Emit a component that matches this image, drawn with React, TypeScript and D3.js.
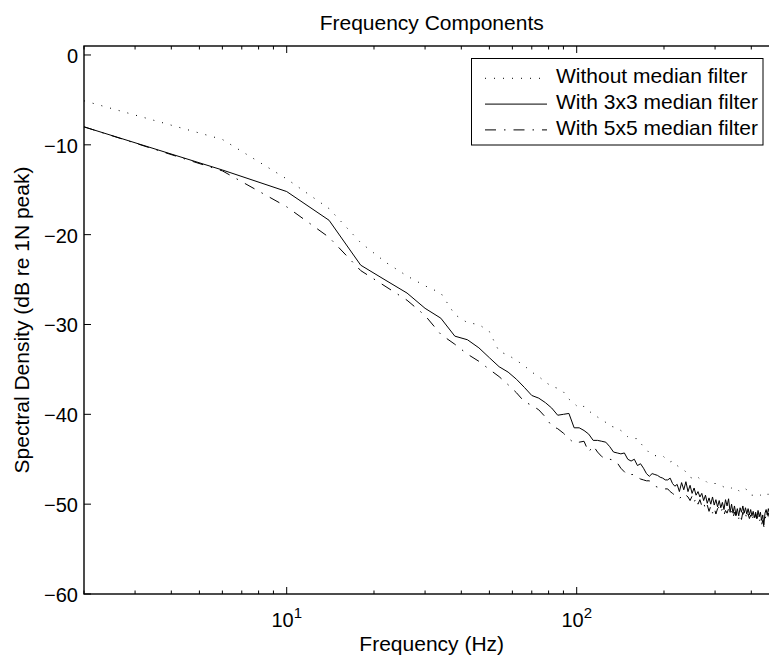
import React, { useEffect, useRef } from 'react';
import * as d3 from 'd3';

// FFT bins are 4 Hz apart, starting at 2 Hz
const freqs = d3.range(2, 463, 4);

const withoutFilter = [
  -5.1, -9.4, -13.8, -17.1, -20.9, -23.1, -24.6, -25.7, -26.5, -28.9,
  -29.8, -30.0, -30.8, -33.0, -33.4, -34.0, -34.6, -35.3, -35.8, -36.4,
  -36.9, -37.1, -37.5, -38.3, -38.8, -39.3, -39.1, -39.6, -40.0, -40.3,
  -40.6, -40.9, -41.3, -41.4, -41.6, -41.8, -42.1, -42.5, -42.7, -42.7,
  -42.7, -43.2, -43.6, -43.9, -44.3, -44.4, -44.6, -44.6, -44.6, -44.6,
  -44.9, -45.2, -45.3, -45.2, -45.4, -45.7, -45.9, -46.1, -46.2, -46.4,
  -46.7, -47.0, -47.1, -47.1, -46.9, -47.0, -47.2, -47.2, -47.3, -47.4,
  -47.6, -47.6, -47.6, -47.7, -47.7, -47.7, -47.7, -47.8, -47.9, -48.0,
  -48.1, -48.2, -48.3, -48.3, -48.3, -48.2, -48.1, -48.1, -48.2, -48.3,
  -48.5, -48.6, -48.6, -48.4, -48.3, -48.3, -48.4, -48.6, -48.8, -49.0,
  -49.0, -49.0, -49.1, -49.1, -49.1, -49.0, -49.0, -49.0, -48.9, -48.8,
  -48.8, -48.7, -48.8, -48.9, -48.9, -48.9,
];

const with3x3 = [
  -8.0, -12.8, -15.2, -18.4, -23.4, -25.1, -26.5, -28.2, -29.3, -31.3,
  -31.7, -32.6, -33.7, -34.7, -35.3, -36.1, -37.0, -37.9, -38.2, -38.7,
  -39.3, -40.1, -40.0, -39.9, -41.5, -41.5, -41.8, -42.2, -42.9, -42.9,
  -43.0, -43.1, -43.6, -44.2, -44.3, -44.4, -44.3, -45.0, -45.2, -45.0,
  -45.7, -45.5, -46.0, -46.6, -46.9, -46.6, -46.7, -46.8, -47.0, -47.1,
  -47.3, -47.3, -47.1, -47.7, -48.0, -47.8, -48.6, -47.6, -48.4, -47.5,
  -48.6, -47.9, -48.8, -48.2, -49.0, -48.6, -49.2, -48.8, -49.6, -49.0,
  -49.9, -49.3, -50.0, -49.2, -50.1, -49.5, -50.3, -49.6, -50.4, -49.8,
  -50.6, -49.5, -50.2, -49.4, -50.9, -50.0, -51.0, -50.2, -51.2, -50.5,
  -51.3, -50.4, -50.9, -50.2, -51.0, -50.4, -51.1, -50.5, -51.2, -50.6,
  -51.3, -50.8, -51.5, -50.9, -51.6, -50.7, -51.4, -50.9, -51.8, -51.2,
  -52.3, -51.0, -50.6, -51.2, -50.5, -51.0,
];

const with5x5 = [
  -8.0, -12.9, -16.9, -20.3, -24.0, -25.8, -27.3, -29.0, -31.1, -32.2,
  -33.3, -34.1, -35.0, -35.8, -36.7, -37.6, -38.6, -39.0, -39.5, -40.3,
  -41.3, -41.6, -42.1, -42.7, -43.2, -43.1, -43.0, -44.2, -43.5, -44.2,
  -44.7, -45.0, -45.0, -45.1, -45.4, -46.0, -46.4, -46.8, -46.7, -46.7,
  -47.0, -47.2, -47.3, -47.4, -47.4, -47.7, -48.0, -48.1, -48.2, -48.3,
  -48.3, -48.3, -48.6, -48.8, -49.0, -49.3, -49.4, -49.1, -48.8, -49.0,
  -49.2, -49.6, -49.1, -49.8, -49.3, -50.0, -49.5, -50.2, -49.8, -50.6,
  -50.1, -50.8, -50.2, -51.0, -50.4, -51.1, -50.5, -50.3, -50.9, -50.5,
  -51.2, -50.7, -51.0, -50.5, -51.1, -50.8, -51.5, -50.9, -51.3, -50.8,
  -51.6, -51.1, -51.7, -50.9, -51.4, -51.0, -51.7, -51.1, -51.6, -51.2,
  -51.9, -51.3, -51.8, -51.1, -51.6, -51.3, -52.0, -51.6, -52.3, -51.8,
  -52.5, -51.7, -51.2, -51.6, -51.0, -51.5,
];

const yTicks = [-60, -50, -40, -30, -20, -10, 0];
const xMajor = [10, 100];
const xMinor = [2, 3, 4, 5, 6, 7, 8, 9, 20, 30, 40, 50, 60, 70, 80, 90, 200, 300, 400, 500];
const legendLabels = ['Without median filter', 'With 3x3 median filter', 'With 5x5 median filter'];
const dashes = ['1,8', null, '11,8,1.5,8'];

const FONT = 'Liberation Sans, Arial, Helvetica, sans-serif';

function App() {
  const svgRef = useRef<SVGSVGElement>(null);

  useEffect(() => {
    const svg = d3.select(svgRef.current);
    svg.selectAll('*').remove();

    const left = 84, right = 779.4, top = 46, bottom = 594;
    const x = d3.scaleLog().domain([2, 500]).range([left, right]);
    const y = d3.scaleLinear().domain([-60, 1]).range([bottom, top]);

    svg.append('defs').append('clipPath').attr('id', 'plotclip')
      .append('rect')
      .attr('x', left).attr('y', top)
      .attr('width', right - left).attr('height', bottom - top);

    // series
    const line = d3.line<number>()
      .x((d, i) => x(freqs[i]))
      .y(d => y(d));

    const series = [withoutFilter, with3x3, with5x5];
    const g = svg.append('g').attr('clip-path', 'url(#plotclip)');
    series.forEach((vals, i) => {
      g.append('path')
        .attr('d', line(vals))
        .attr('fill', 'none')
        .attr('stroke', '#000')
        .attr('stroke-width', 1)
        .attr('stroke-dasharray', dashes[i]);
    });

    // frame
    svg.append('rect')
      .attr('x', left).attr('y', top)
      .attr('width', right - left).attr('height', bottom - top)
      .attr('fill', 'none').attr('stroke', '#000').attr('stroke-width', 1.4);

    const ticks = svg.append('g').attr('stroke', '#000').attr('stroke-width', 1);
    yTicks.forEach(t => {
      ticks.append('line').attr('x1', left).attr('x2', left + 7).attr('y1', y(t)).attr('y2', y(t));
      ticks.append('line').attr('x1', right).attr('x2', right - 7).attr('y1', y(t)).attr('y2', y(t));
    });
    xMajor.forEach(t => {
      ticks.append('line').attr('x1', x(t)).attr('x2', x(t)).attr('y1', bottom).attr('y2', bottom - 7);
      ticks.append('line').attr('x1', x(t)).attr('x2', x(t)).attr('y1', top).attr('y2', top + 7);
    });
    xMinor.forEach(t => {
      ticks.append('line').attr('x1', x(t)).attr('x2', x(t)).attr('y1', bottom).attr('y2', bottom - 3.5);
      ticks.append('line').attr('x1', x(t)).attr('x2', x(t)).attr('y1', top).attr('y2', top + 3.5);
    });

    // tick labels
    yTicks.forEach(t => {
      svg.append('text')
        .attr('x', 78).attr('y', y(t) + 8)
        .attr('text-anchor', 'end')
        .attr('font-family', FONT).attr('font-size', 20)
        .text(t < 0 ? '\u2212' + Math.abs(t) : String(t));
    });
    xMajor.forEach(t => {
      const txt = svg.append('text')
        .attr('x', x(t)).attr('y', 627)
        .attr('text-anchor', 'middle')
        .attr('font-family', FONT).attr('font-size', 20);
      txt.append('tspan').text('10');
      txt.append('tspan').attr('dy', -9).attr('font-size', 15).text(String(Math.round(Math.log10(t))));
    });

    // titles
    svg.append('text')
      .attr('x', (left + right) / 2).attr('y', 30)
      .attr('text-anchor', 'middle')
      .attr('font-family', FONT).attr('font-size', 21)
      .text('Frequency Components');
    svg.append('text')
      .attr('x', (left + right) / 2).attr('y', 651)
      .attr('text-anchor', 'middle')
      .attr('font-family', FONT).attr('font-size', 21)
      .text('Frequency (Hz)');
    svg.append('text')
      .attr('transform', `translate(29,${(top + bottom) / 2}) rotate(-90)`)
      .attr('text-anchor', 'middle')
      .attr('font-family', FONT).attr('font-size', 21)
      .text('Spectral Density (dB re 1N peak)');

    // legend
    const lg = svg.append('g');
    lg.append('rect')
      .attr('x', 471.5).attr('y', 58.5)
      .attr('width', 291.5).attr('height', 86.5)
      .attr('fill', '#fff').attr('stroke', '#000').attr('stroke-width', 1);
    legendLabels.forEach((label, i) => {
      const base = 83.3 + i * 25.8;
      lg.append('line')
        .attr('x1', 485).attr('x2', 547)
        .attr('y1', base - 5).attr('y2', base - 5)
        .attr('stroke', '#000').attr('stroke-width', 1)
        .attr('stroke-dasharray', dashes[i]);
      lg.append('text')
        .attr('x', 556).attr('y', base)
        .attr('font-family', FONT).attr('font-size', 21)
        .text(label);
    });
  }, []);

  return (
    <svg
      ref={svgRef}
      width={769}
      height={658}
      style={{ position: 'absolute', left: 0, top: 0, background: '#fff' }}
    />
  );
}

export default App;
